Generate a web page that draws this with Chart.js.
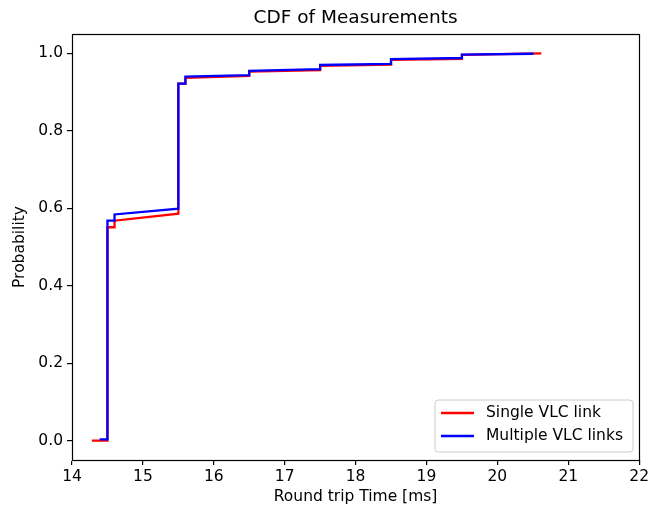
<!DOCTYPE html>
<html>
<head>
<meta charset="utf-8">
<script src="https://cdn.jsdelivr.net/npm/chart.js@4.4.1/dist/chart.umd.min.js"></script>
<style>
  html, body { margin: 0; padding: 0; background: #ffffff; }
  #wrap { width: 652px; height: 508px; position: relative; }
</style>
</head>
<body>
<div id="wrap"><canvas id="c" width="652" height="508"></canvas></div>
<script>
// Round trip times (ms) and cumulative probabilities for each setup.
// Repeated x values give the vertical jumps of the empirical CDF.
const singleTimes = [14.28, 14.50, 14.50, 14.60, 14.60, 15.50, 15.50, 15.60, 15.60, 16.50, 16.50, 17.50, 17.50, 18.50, 18.50, 19.50, 19.50, 20.62];
const singleProb  = [0.000, 0.000, 0.551, 0.551, 0.568, 0.586, 0.922, 0.922, 0.937, 0.942, 0.953, 0.957, 0.968, 0.971, 0.983, 0.986, 0.996, 1.000];

const multiTimes = [14.39, 14.50, 14.50, 14.60, 14.60, 15.50, 15.50, 15.60, 15.60, 16.50, 16.50, 17.50, 17.50, 18.50, 18.50, 19.50, 19.50, 20.51];
const multiProb  = [0.003, 0.003, 0.568, 0.568, 0.584, 0.599, 0.922, 0.922, 0.940, 0.944, 0.955, 0.959, 0.970, 0.973, 0.985, 0.988, 0.997, 0.999];

const seriesNames = ['Single VLC link', 'Multiple VLC links'];
const xTicks = [14, 15, 16, 17, 18, 19, 20, 21, 22];
const yTicks = [0.0, 0.2, 0.4, 0.6, 0.8, 1.0];

const FONT = '"DejaVu Sans", sans-serif';
const TXT = 15.5;
const LW = 2.3;

function toPoints(xs, ys) { return xs.map((x, i) => ({ x: x, y: ys[i] })); }

// Frame, title, axis titles and an in-plot legend.
const decor = {
  id: 'decor',
  afterDraw(chart) {
    const ctx = chart.ctx;
    const a = chart.chartArea;
    ctx.save();
    ctx.strokeStyle = '#000';
    ctx.lineWidth = 1.2;
    ctx.strokeRect(Math.round(a.left) + 0.5, Math.round(a.top) + 0.5,
                   Math.round(a.right - a.left), Math.round(a.bottom - a.top));

    ctx.fillStyle = '#000';
    ctx.textAlign = 'center';
    ctx.textBaseline = 'middle';
    ctx.font = '18.5px ' + FONT;
    ctx.fillText('CDF of Measurements', (a.left + a.right) / 2, 18);

    ctx.font = TXT + 'px ' + FONT;
    ctx.fillText('Round trip Time [ms]', (a.left + a.right) / 2, 497);
    ctx.save();
    ctx.translate(20, (a.top + a.bottom) / 2);
    ctx.rotate(-Math.PI / 2);
    ctx.fillText('Probability', 0, 0);
    ctx.restore();

    // legend box
    const bx = 435, by = 400, bw = 198, bh = 52, r = 3;
    ctx.beginPath();
    ctx.moveTo(bx + r, by);
    ctx.arcTo(bx + bw, by, bx + bw, by + bh, r);
    ctx.arcTo(bx + bw, by + bh, bx, by + bh, r);
    ctx.arcTo(bx, by + bh, bx, by, r);
    ctx.arcTo(bx, by, bx + bw, by, r);
    ctx.closePath();
    ctx.fillStyle = 'rgba(255,255,255,0.8)';
    ctx.fill();
    ctx.lineWidth = 1;
    ctx.strokeStyle = '#cccccc';
    ctx.stroke();

    chart.data.datasets.forEach((ds, i) => {
      const yy = 413 + i * 23;
      ctx.strokeStyle = ds.borderColor;
      ctx.lineWidth = LW;
      ctx.beginPath();
      ctx.moveTo(441, yy);
      ctx.lineTo(474, yy);
      ctx.stroke();
      ctx.fillStyle = '#000';
      ctx.textAlign = 'left';
      ctx.font = TXT + 'px ' + FONT;
      ctx.fillText(ds.label, 486, yy);
    });
    ctx.restore();
  }
};

new Chart(document.getElementById('c'), {
  type: 'line',
  data: {
    datasets: [
      { label: seriesNames[0], data: toPoints(singleTimes, singleProb), borderColor: '#ff0000', borderWidth: LW, pointRadius: 0, fill: false, tension: 0, order: 2 },
      { label: seriesNames[1], data: toPoints(multiTimes, multiProb), borderColor: '#0000ff', borderWidth: LW, pointRadius: 0, fill: false, tension: 0, order: 1 }
    ]
  },
  options: {
    responsive: false,
    animation: false,
    events: [],
    layout: { padding: { top: 34, right: 11, left: 0, bottom: 0 } },
    plugins: { legend: { display: false }, title: { display: false }, tooltip: { enabled: false } },
    scales: {
      x: {
        type: 'linear',
        min: 14, max: 22,
        afterFit(s) { s.height = 48; },
        afterBuildTicks(s) { s.ticks = xTicks.map(v => ({ value: v })); },
        grid: { display: true, drawOnChartArea: false, drawTicks: true, tickLength: 5, lineWidth: 1.2, color: '#000' },
        border: { display: true, color: '#000', width: 1 },
        ticks: { color: '#000', font: { family: FONT, size: TXT }, padding: 3, maxRotation: 0, callback: v => String(v) }
      },
      y: {
        type: 'linear',
        min: -0.05, max: 1.05,
        afterFit(s) { s.width = 72; },
        afterBuildTicks(s) { s.ticks = yTicks.map(v => ({ value: v })); },
        grid: { display: true, drawOnChartArea: false, drawTicks: true, tickLength: 5, lineWidth: 1.2, color: '#000' },
        border: { display: true, color: '#000', width: 1 },
        ticks: { color: '#000', font: { family: FONT, size: TXT }, padding: 4, callback: v => Number(v).toFixed(1) }
      }
    }
  },
  plugins: [decor]
});
</script>
</body>
</html>
